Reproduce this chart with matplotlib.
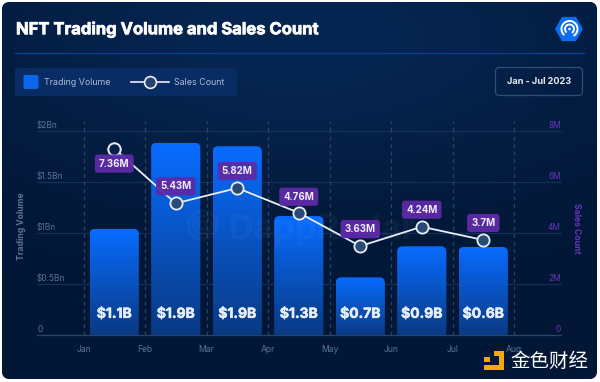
import numpy as np
import matplotlib
matplotlib.use('Agg')
import matplotlib.pyplot as plt
import matplotlib.patheffects as pe
from matplotlib.patches import FancyBboxPatch, Rectangle, RegularPolygon, Arc, Circle

plt.rcParams['font.family'] = ['Inter', 'DejaVu Sans']

months = ['Jan', 'Feb', 'Mar', 'Apr', 'May', 'Jun', 'Jul', 'Aug']
volume = [1.04, 1.885, 1.85, 1.165, 0.563, 0.868, 0.862]
volume_labels = ['$1.1B', '$1.9B', '$1.9B', '$1.3B', '$0.7B', '$0.9B', '$0.6B']
sales = [7.31, 5.16, 5.76, 4.79, 3.48, 4.24, 3.72]
sales_labels = ['7.36M', '5.43M', '5.82M', '4.76M', '3.63M', '4.24M', '3.7M']
vol_ticks = [0, 0.5, 1, 1.5, 2]
vol_ticklabels = ['0', '$0.5Bn', '$1Bn', '$1.5Bn', '$2Bn']
sales_ticks = [0, 2, 4, 6, 8]
sales_ticklabels = ['0', '2M', '4M', '6M', '8M']

W, H = 600, 382
BLUE_TXT = '#587599'
PURPLE_TXT = '#6c33b8'

fig = plt.figure(figsize=(W / 100, H / 100), dpi=100, facecolor='white')

# whole figure in pixels, y going down
bg = fig.add_axes([0, 0, 1, 1])
bg.set_xlim(0, W)
bg.set_ylim(H, 0)
bg.axis('off')

card = FancyBboxPatch((2, 2), 595, 377, boxstyle='round,pad=0,rounding_size=8',
                      fc='#021a3e', ec='none', zorder=0)
bg.add_patch(card)
yy, xx = np.mgrid[0:1:200j, 0:1:300j]
glow = np.exp(-(((xx - 0.5) / 0.55) ** 2 + ((yy - 0.1) / 0.38) ** 2))
c0 = np.array([2, 23, 54]) / 255
c1 = np.array([6, 38, 82]) / 255
img = c0 + (c1 - c0) * glow[..., None]
im = bg.imshow(img, extent=[0, W, H, 0], aspect='auto', zorder=0.5)
im.set_clip_path(card)
bg.set_xlim(0, W)
bg.set_ylim(H, 0)

bg.text(16, 29.5, 'NFT Trading Volume and Sales Count', color='white', fontsize=11.95,
        fontweight='bold', va='center', ha='left',
        path_effects=[pe.withStroke(linewidth=0.5, foreground='white')])
bg.plot([15, 584], [52.5, 52.5], color='#0b3f8e', lw=1)

# legend box
bg.add_patch(FancyBboxPatch((15, 68), 222, 28, boxstyle='round,pad=0,rounding_size=3',
                            fc='#082c63', ec='none'))
bg.add_patch(FancyBboxPatch((23.5, 75), 15, 14, boxstyle='round,pad=0,rounding_size=2',
                            fc='#0b66ee', ec='none'))
bg.text(44, 82.3, 'Trading Volume', color='#a9bcd6', fontsize=6.4, va='center')
bg.plot([131, 169], [82, 82], color='#e8eef6', lw=1.2)
bg.plot([150], [82], 'o', ms=8.5, mfc='#24426c', mec='#e8eef6', mew=1.2)
bg.text(174, 82.3, 'Sales Count', color='#a9bcd6', fontsize=6.4, va='center')

# date box
bg.add_patch(FancyBboxPatch((495.5, 67.5), 87, 28, boxstyle='round,pad=0,rounding_size=4',
                            fc='none', ec='#2f4f7a', lw=0.9))
bg.text(539, 82, 'Jan - Jul 2023', color='#e6ecf5', fontsize=6.6, fontweight='bold',
        ha='center', va='center')

# logo
bg.add_patch(RegularPolygon((569, 29), 6, radius=14, orientation=np.pi / 6,
                            fc='#0a6cf0', ec='none'))
for r, lw in [(8, 1.4), (4.5, 1.4)]:
    bg.add_patch(Arc((569.5, 29), 2 * r, 2 * r, angle=0, theta1=130, theta2=60,
                     color='white', lw=lw))
bg.add_patch(Circle((569.5, 29), 1.3, fc='white', ec='none'))

# chart area
left, right = 83.5, 514
top, bottom = 131, 334.7
ax = fig.add_axes([left / W, 1 - bottom / H, (right - left) / W, (bottom - top) / H])
ax.patch.set_alpha(0)
ax.set_xlim(0, 7)
ax.set_ylim(0, 2)
for s in ax.spines.values():
    s.set_visible(False)
ax.set_xticks([])
ax.set_yticks([])
ax2 = ax.twinx()
ax2.patch.set_alpha(0)
ax2.set_ylim(0, 8)
for s in ax2.spines.values():
    s.set_visible(False)
ax2.set_xticks([])
ax2.set_yticks([])

# grid, runs past the plot on both sides
for v in vol_ticks:
    py = bottom - v / 2 * (bottom - top)
    bg.plot([37, 561], [py, py], color='#14305a' if v else '#2a4468', lw=0.9, zorder=1)
for i in range(8):
    ax.axvline(i, color='#2a4468', lw=0.9, ls=(0, (3, 3)), zorder=1, clip_on=False)
    ax.plot([i, i], [2, 2.1], color='#2a4468', lw=0.9, ls=(0, (3, 3)), clip_on=False, zorder=1)

for v, t in zip(vol_ticks, vol_ticklabels):
    py = bottom - v / 2 * (bottom - top)
    bg.text(37, py - 5.5, t, color=BLUE_TXT, fontsize=6, va='center', ha='left')
for v, t in zip(sales_ticks, sales_ticklabels):
    py = bottom - v / 8 * (bottom - top)
    bg.text(561, py - 5.5, t, color=PURPLE_TXT, fontsize=6, va='center', ha='right')
for i, m in enumerate(months):
    ax.text(i, -0.15, m, color=BLUE_TXT, fontsize=6.2, ha='center', va='center')

bg.text(21, 226, 'Trading Volume', color=BLUE_TXT, fontsize=6.2, fontweight='bold',
        rotation=90, ha='center', va='center')
bg.text(577, 228, 'Sales Count', color=PURPLE_TXT, fontsize=6.2, fontweight='bold',
        rotation=270, ha='center', va='center')

# bars, gradient clipped to a rounded box
xs = np.arange(7) + 0.5
bar_w = 0.8
px_x = (right - left) / 7
px_y = (bottom - top) / 2
grad = np.linspace(0, 1, 128)[:, None, None] * (np.array([8, 108, 255]) - np.array([10, 58, 132])) / 255 \
    + np.array([10, 58, 132]) / 255
for x, v, lab in zip(xs, volume, volume_labels):
    box = FancyBboxPatch((x - bar_w / 2, -0.1), bar_w, v + 0.1,
                         boxstyle='round,pad=0,rounding_size=%f' % (5.5 / px_x),
                         mutation_aspect=px_x / px_y, fc='none', ec='none', zorder=2)
    ax.add_patch(box)
    g = ax.imshow(grad, extent=[x - bar_w / 2, x + bar_w / 2, 0, v], origin='lower',
                  aspect='auto', zorder=2)
    g.set_clip_path(box)
    ax.text(x, 0.205, lab, color='#e6eefb', fontsize=10, fontweight='bold',
            ha='center', va='center', zorder=4,
            path_effects=[pe.withStroke(linewidth=0.4, foreground='#e6eefb')])
ax.set_xlim(0, 7)
ax.set_ylim(0, 2)

# watermark sits over the bars, very faint
ax.text(0.338, 0.515, 'DappRadar', transform=ax.transAxes, color='white', alpha=0.035,
        fontsize=25, fontweight='bold', ha='left', va='center', zorder=3)
for r in (14, 9, 4):
    ax.add_patch(Circle((202.5, 225), r, transform=bg.transData, fc='none', ec='white',
                        alpha=0.035, lw=2.5, zorder=3))

# sales line
ax2.set_zorder(ax.get_zorder() + 1)
ax2.plot(xs, sales, color='#e8eef6', lw=1.3, zorder=5, clip_on=False)
ax2.plot(xs, sales, 'o', ms=8.8, mfc='#2a4a78', mec='#e8eef6', mew=1.3, zorder=6, clip_on=False)
ax2.plot(xs[0], sales[0], 'o', ms=8.8, mfc='#05204a', mec='#e8eef6', mew=1.3, zorder=6, clip_on=False)

# label offsets in pixels above each marker (the first one sits below)
offsets = [-15, 17, 17, 16, 17, 17, 17]
for x, s, lab, off in zip(xs, sales, sales_labels, offsets):
    ax2.annotate(lab, (x, s), xytext=(0, off * 0.72), textcoords='offset points',
                 color='#f0ebfa', fontsize=7, fontweight='bold', ha='center', va='center',
                 zorder=7, annotation_clip=False,
                 bbox=dict(boxstyle='round,pad=0.42,rounding_size=0.3', fc='#5d2aa6',
                           ec='none', alpha=0.95))

# 金色财经 mark
top_ax = fig.add_axes([0, 0, 1, 1])
top_ax.set_xlim(0, W)
top_ax.set_ylim(H, 0)
top_ax.axis('off')
top_ax.patch.set_alpha(0)
Y = '#f0a90e'
top_ax.add_patch(Rectangle((494, 351), 10, 4.5, fc=Y, ec='none'))
top_ax.add_patch(Rectangle((498.5, 351), 5.5, 19, fc=Y, ec='none'))
top_ax.add_patch(Rectangle((484, 364.5), 20, 5.5, fc=Y, ec='none'))
top_ax.add_patch(Rectangle((484, 357), 5.5, 5, fc=Y, ec='none'))
top_ax.text(510, 361, '金色财经', color='white', fontsize=14, ha='left', va='center',
            family=['Noto Sans CJK SC', 'DejaVu Sans'])

fig.savefig('out.png', dpi=100, facecolor='white')
